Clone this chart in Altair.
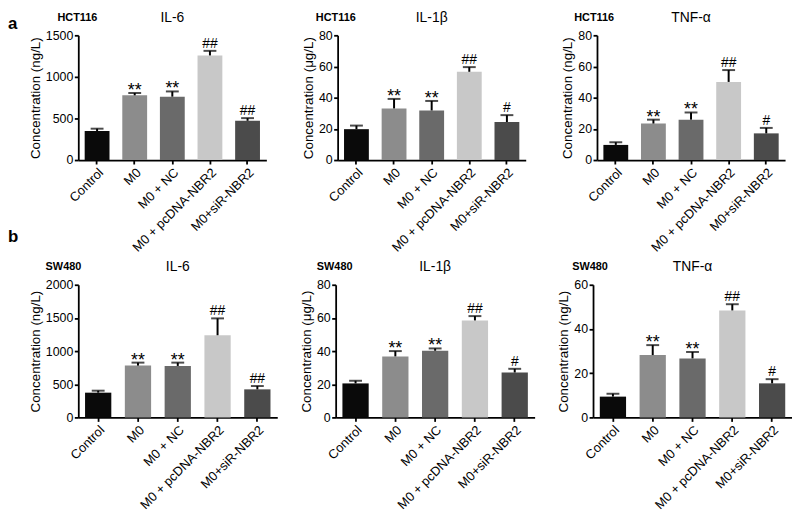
import altair as alt
import pandas as pd

FONT = "Liberation Sans"

categories = ["Control", "M0", "M0 + NC", "M0 + pcDNA-NBR2", "M0+siR-NBR2"]
bar_colors = ["#0a0a0a", "#8c8c8c", "#6a6a6a", "#c8c8c8", "#4b4b4b"]

cell_lines = ["HCT116", "HCT116", "HCT116", "SW480", "SW480", "SW480"]
cytokines = ["IL-6", "IL-1β", "TNF-α", "IL-6", "IL-1β", "TNF-α"]
units = ["ng/L", "μg/L", "ng/L", "ng/L", "μg/L", "ng/L"]

# means and SD (upper error) per panel
hct_il6_mean = [349, 778, 762, 1258, 472]
hct_il6_sd = [28, 28, 63, 55, 32]
hct_il1b_mean = [19.8, 33.1, 31.8, 56.6, 24.4]
hct_il1b_sd = [2.3, 6.1, 6.1, 3.0, 4.4]
hct_tnf_mean = [9.7, 23.4, 25.9, 50.1, 17.1]
hct_tnf_sd = [1.7, 2.5, 4.6, 7.6, 3.5]
sw_il6_mean = [373, 781, 776, 1239, 423]
sw_il6_sd = [30, 45, 50, 254, 50]
sw_il1b_mean = [20.5, 36.8, 40.2, 58.5, 27.1]
sw_il1b_sd = [1.6, 3.2, 1.4, 2.6, 2.2]
sw_tnf_mean = [9.4, 28.2, 26.7, 48.4, 15.4]
sw_tnf_sd = [1.3, 4.5, 2.9, 2.8, 1.9]

marks_il6 = ["", "**", "**", "##", "##"]
marks_other = ["", "**", "**", "##", "#"]

ticks_1500 = [0, 500, 1000, 1500]
ticks_2000 = [0, 500, 1000, 1500, 2000]
ticks_80 = [0, 20, 40, 60, 80]
ticks_60 = [0, 20, 40, 60]

means = [hct_il6_mean, hct_il1b_mean, hct_tnf_mean, sw_il6_mean, sw_il1b_mean, sw_tnf_mean]
sds = [hct_il6_sd, hct_il1b_sd, hct_tnf_sd, sw_il6_sd, sw_il1b_sd, sw_tnf_sd]
marks = [marks_il6, marks_other, marks_other, marks_il6, marks_other, marks_other]
tick_sets = [ticks_1500, ticks_80, ticks_80, ticks_2000, ticks_80, ticks_60]
cell_dx = [-21, -22, -23, -33, -19, -21]
TITLE_Y = -17.5


def panel(i, width, height, letters=None, ghost_x=None):
    df = pd.DataFrame({
        "cat": categories,
        "mean": means[i],
        "top": [m + s for m, s in zip(means[i], sds[i])],
        "mark": marks[i],
    })
    ticks = tick_sets[i]
    xs = alt.Scale(domain=categories, paddingInner=0.34, paddingOuter=0.17)
    ys = alt.Scale(domain=[ticks[0], ticks[-1]], nice=False)
    xa = alt.Axis(title=None, labelAngle=315, labelFontSize=13, labelPadding=2)
    ya = alt.Axis(values=ticks, format="d", labelFontSize=12.5,
                  title=f"Concentration ({units[i]})")

    def X():
        return alt.X("cat:N", sort=categories, scale=xs, axis=xa)

    def Y(f):
        return alt.Y(f"{f}:Q", scale=ys, axis=ya)

    base = alt.Chart(df)
    bars = base.mark_bar().encode(
        x=X(), y=Y("mean"),
        color=alt.Color("cat:N", scale=alt.Scale(domain=categories, range=bar_colors), legend=None),
    )
    rule = base.mark_rule(strokeWidth=2, color="black").encode(x=X(), y=Y("mean"), y2="top:Q")
    cap = base.mark_tick(thickness=2, size=13, color="black").encode(x=X(), y=Y("top"))
    stars = base.transform_filter("datum.mark == '**'").mark_text(
        font=FONT, fontSize=18, baseline="alphabetic", dy=3, color="black"
    ).encode(x=X(), y=Y("top"), text="mark:N")
    hashes = base.transform_filter("indexof(datum.mark, '#') >= 0").mark_text(
        font=FONT, fontSize=14, baseline="alphabetic", dy=-3, color="black"
    ).encode(x=X(), y=Y("top"), text="mark:N")

    t_cell = alt.Chart(pd.DataFrame({"t": [cell_lines[i]]})).mark_text(
        font=FONT, fontSize=11, fontWeight="bold", align="left", baseline="middle", color="black"
    ).encode(x=alt.value(cell_dx[i]), y=alt.value(TITLE_Y), text="t:N")
    t_cyto = alt.Chart(pd.DataFrame({"t": [cytokines[i]]})).mark_text(
        font=FONT, fontSize=14, align="center", baseline="middle", color="black"
    ).encode(x=alt.value(width / 2), y=alt.value(TITLE_Y), text="t:N")

    layers = [bars, rule, cap, stars, hashes, t_cell, t_cyto]
    if letters:
        for txt, lx, ly in letters:
            layers.append(alt.Chart(pd.DataFrame({"t": [txt]})).mark_text(
                font=FONT, fontSize=17, fontWeight="bold", align="left", baseline="alphabetic", color="black"
            ).encode(x=alt.value(lx), y=alt.value(ly), text="t:N"))
    if ghost_x is not None:
        layers.append(alt.Chart(pd.DataFrame({"t": ["b"]})).mark_text(
            font=FONT, fontSize=10, align="left", baseline="middle", opacity=0
        ).encode(x=alt.value(ghost_x), y=alt.value(TITLE_Y), text="t:N"))
    return alt.layer(*layers).properties(width=width, height=height)


top = alt.hconcat(
    panel(0, 190, 126, letters=[("a", -71, -6), ("b", -71, 209)]),
    panel(1, 190, 126),
    panel(2, 190, 126),
    spacing=72, bounds="flush",
)
bottom = alt.hconcat(
    panel(3, 201, 134, ghost_x=-67),
    panel(4, 201, 134),
    panel(5, 201, 134),
    spacing=59, bounds="flush",
)

chart = alt.vconcat(top, bottom, spacing=5).properties(padding=0).configure_view(
    stroke=None
).configure_axis(
    domainColor="black", domainWidth=1.8, tickColor="black", tickWidth=1.8, tickSize=4,
    labelFont=FONT, labelColor="black", labelPadding=1.5,
    titleFont=FONT, titleFontSize=13.5, titleFontWeight="normal", titleColor="black",
    titlePadding=3, grid=False,
)

chart.save("out.html", embed_options={"renderer": "svg", "actions": False})
